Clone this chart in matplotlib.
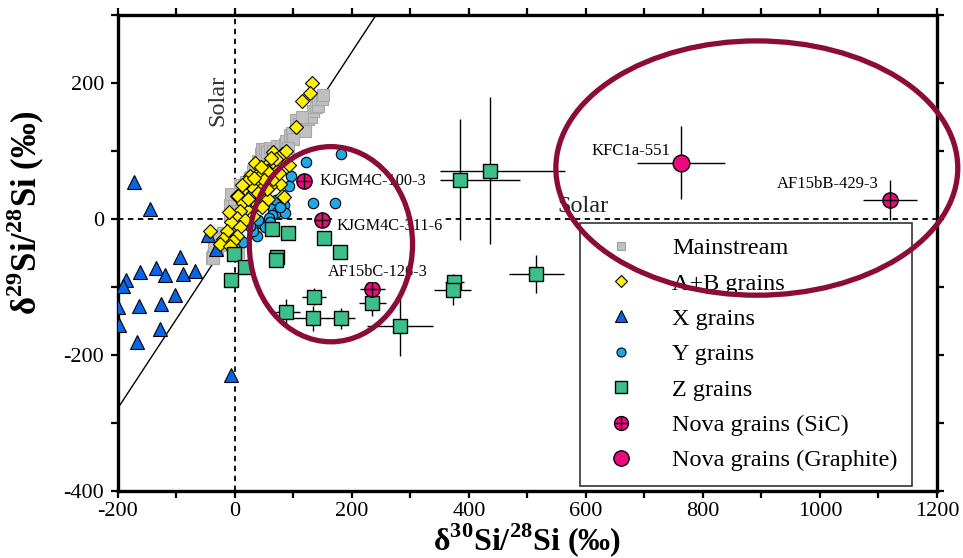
import matplotlib
matplotlib.use("Agg")
import matplotlib.pyplot as plt
from matplotlib.lines import Line2D
from matplotlib.patches import Ellipse
from matplotlib.legend_handler import HandlerTuple

# --- 글꼴 설정 ---
plt.rcParams['font.family'] = ['Liberation Serif', 'DejaVu Serif']
plt.rcParams['mathtext.fontset'] = 'custom'
plt.rcParams['mathtext.rm'] = 'Liberation Serif'
plt.rcParams['mathtext.bf'] = 'Liberation Serif:bold'
plt.rcParams['axes.unicode_minus'] = False

# --- 데이터 ---
# Mainstream (회색 사각형)
ms_x = [-40, -37, -30, -22, -11, -15, -5, 0, -8, -9, 2, 5, 9, 12, 15, 20, 25, 18, 30, 28,
        35, 40, 45, 46, 51, 55, 60, 65, 71, 75, 79, 85, 88, 94, 97, 105, 110, 117, 120, 125,
        130, 134, 138, 142, 142, 148, 150, 115, 100, 90, 70, 60, 50, 40, 30, 20, 10, 0,
        -20, -28, -35, 5, 25, 35, 45, 55, -2, 8, -6, 6, -38]
ms_y = [-58, -55, -45, -38, -32, -25, -18, -10, 5, 21, 12, 25, 39, 30, 45, 50, 60, 55, 70, 62,
        75, 85, 95, 103, 103, 98, 105, 100, 108, 100, 108, 110, 115, 123, 127, 145, 140, 132, 130, 147,
        150, 159, 165, 167, 176, 176, 182, 150, 118, 105, 90, 80, 70, 55, 40, 25, 15, 0,
        -20, -30, -40, -5, 20, 35, 50, 60, 30, 50, 37, -49, -58]

# A+B grains (노란 다이아몬드)
ab_x = [132, 128, 115, 104, 65, 35, 80, 77, 81, 3, -43, 57, 68, 72, 54, 43, 26, 37, 60, 48,
        20, 31, 83, 57, 6, 14, 37, 46, 23, 9, 31, 3, 17, -6, 9, -14, 3, -20, -3, -26,
        -9, 54, 28, 40, 65, 50, 70, 62, 44, 18, 12, -10, 22, 33, 75, 92, 88]
ab_y = [200, 186, 173, 136, 98, 83, 96, 51, 34, 34, -17, 81, 81, 71, 70, 64, 64, 54, 49, 47,
        42, 39, 32, 29, 34, 24, 22, 17, 12, 12, 5, 2, -2, -5, -12, -17, -25, -29, -32, -37,
        -39, 44, 49, 39, 59, 58, 88, 90, 76, 55, 50, 10, 30, 60, 68, 80, 100]

# X grains (파란 삼각형)
x_x = [-172, -146, -46, -32, -94, -135, -162, -119, -89, -69, -187, -191, -102, -164, -126,
       -200, -198, -129, -168, -7]
x_y = [55, 15, -24, -44, -56, -72, -78, -82, -81, -77, -90, -98, -111, -128, -125,
       -130, -156, -162, -181, -229]

# Y grains (하늘색 원)
y_x = [121, 96, 92, 134, 171, 182, 84, 83, 65, 72, 85, 64, 46, 51, 37, 14, 58, 30, 70, 77,
       40, 60, 25]
y_y = [84, 63, 48, 24, 24, 95, 33, 21, 16, 10, 9, 6, -7, -12, -25, -34, 2, -18, 28, 18,
       -2, -4, -10]

# Z grains (녹색 사각형) + 오차
z_x = [64, 91, 153, 179, 72, 70, -2, 17, -7, 135, 88, 134, 181, 235, 282, 384, 436, 515, 375, 372]
z_y = [-15, -20, -28, -49, -56, -60, -51, -71, -90, -114, -137, -146, -146, -124, -157, 58, 71,
       -81, -92, -104]
z_xerr_lo = [5, 8, 6, 4, 4, 4, 3, 3, 3, 21, 23, 45, 24, 23, 57, 34, 86, 47, 16, 32]
z_xerr_hi = [5, 8, 6, 4, 4, 4, 3, 3, 3, 21, 23, 25, 24, 23, 57, 103, 128, 47, 16, 32]
z_yerr = [6, 6, 8, 4, 6, 6, 3, 3, 3, 12, 20, 18, 15, 18, 44, 89, 108, 28, 10, 23]

# Nova grains (SiC)
nsic_names = ["KJGM4C-100-3", "KJGM4C-311-6", "AF15bC-126-3", "AF15bB-429-3"]
nsic_x = [118, 148, 235, 1120]
nsic_y = [56, -1, -103, 28]
nsic_xerr = [0, 0, 21, 46]
nsic_yerr = [0, 0, 12, 30]

# Nova grains (Graphite)
ngr_names = ["KFC1a-551"]
ngr_x = [763]
ngr_y = [83]
ngr_xerr = [75]
ngr_yerr = [54]

# 라벨 위치
label_x = [145, 173, 159, 926, 610]
label_y = [56, -10, -78, 51, 100]
label_size = [11.7, 11.7, 11.7, 12, 12]

# 강조 타원 (중심 x, 중심 y, 폭, 높이)
ellipses = [(164, -37, 279, 287), (892, 75, 687, 374)]

# 기준선 기울기 / 절편
LINE_SLOPE = 1.31
LINE_ICPT = -15.9

# --- 색상 ---
C_MS = '#c0c0c0'
C_AB = '#fff000'
C_X = '#0a64e6'
C_Y = '#1ea8e6'
C_Z = '#3cbf8a'
C_NOVA = '#eb0a7d'
C_ELL = '#8b0c38'


def main():
    fig = plt.figure(figsize=(9.63, 5.58), dpi=100)
    ax = fig.add_axes([0.1225, 0.12, 0.8505, 0.853])

    # 기준선
    ax.axvline(0, color='black', lw=1.3, ls=(0, (3, 2.5)), zorder=1)
    ax.axhline(0, color='black', lw=1.3, ls=(0, (3, 2.5)), zorder=1)
    lx = [-200, (300 - LINE_ICPT) / LINE_SLOPE]
    ax.plot(lx, [LINE_SLOPE * v + LINE_ICPT for v in lx], color='black', lw=1, zorder=2)

    ax.text(-29, 174, "Solar", rotation=90, ha='center', va='center', fontsize=17.5,
            color='#333333', zorder=3)
    ax.text(595, 19, "Solar", ha='center', va='center', fontsize=17.5, color='#222222', zorder=3)

    # 오차 막대
    ax.errorbar(z_x, z_y, xerr=[z_xerr_lo, z_xerr_hi], yerr=z_yerr, fmt='none',
                ecolor='black', elinewidth=1, capsize=0, zorder=4)
    ax.errorbar(nsic_x, nsic_y, xerr=nsic_xerr, yerr=nsic_yerr, fmt='none',
                ecolor='black', elinewidth=1, capsize=0, zorder=4)
    ax.errorbar(ngr_x, ngr_y, xerr=ngr_xerr, yerr=ngr_yerr, fmt='none',
                ecolor='black', elinewidth=1, capsize=0, zorder=4)

    # 데이터 점
    ax.plot(ms_x, ms_y, 's', ms=8.5, mfc=C_MS, mec='#a8a8a8', mew=0.8, zorder=5)
    ax.plot(y_x, y_y, 'o', ms=7.5, mfc=C_Y, mec='black', mew=0.8, zorder=6)
    ax.plot(x_x, x_y, '^', ms=10, mfc=C_X, mec='black', mew=0.8, zorder=6)
    ax.plot(ab_x, ab_y, 'D', ms=7, mfc=C_AB, mec='black', mew=0.8, zorder=7)
    ax.plot(z_x, z_y, 's', ms=10, mfc=C_Z, mec='black', mew=1, zorder=8)
    ax.plot(nsic_x, nsic_y, 'o', ms=11, mfc=C_NOVA, mec='black', mew=1, zorder=9)
    ax.plot(nsic_x, nsic_y, '+', ms=10, mec='black', mew=1, zorder=10)
    ax.plot(ngr_x, ngr_y, 'o', ms=12, mfc=C_NOVA, mec='black', mew=1, zorder=9)

    # 라벨
    names = nsic_names + ngr_names
    for i, name in enumerate(names):
        ax.text(label_x[i], label_y[i], name, ha='left', va='center', fontsize=label_size[i],
                zorder=11, bbox=dict(facecolor='white', edgecolor='none', pad=1.0))

    # 축 설정
    ax.set_xlim(-200, 1200)
    ax.set_ylim(-400, 300)
    ax.set_xticks(range(-200, 1201, 200))
    ax.set_xticks(range(-200, 1201, 100), minor=True)
    ax.set_yticks(range(-400, 201, 200))
    ax.set_yticks(range(-400, 301, 100), minor=True)
    ax.tick_params(which='both', direction='out', top=True, right=True, labeltop=False,
                   labelright=False, width=1.6, length=5, labelsize=16, pad=3)
    ax.tick_params(axis='y', pad=5)
    for sp in ax.spines.values():
        sp.set_linewidth(2.4)

    ax.set_xlabel(r"δ$^{\mathbf{30}}$Si/$^{\mathbf{28}}$Si (‰)", fontsize=23,
                  fontweight='bold', labelpad=0)
    ax.set_ylabel(r"δ$^{\mathbf{29}}$Si/$^{\mathbf{28}}$Si (‰)", fontsize=25,
                  fontweight='bold', labelpad=0)
    ax.yaxis.set_label_coords(-0.087, 0.585)

    # 범례
    h_ms = Line2D([], [], ls='none', marker='s', ms=6, mfc=C_MS, mec='#a0a0a0', mew=0.8)
    h_ab = Line2D([], [], ls='none', marker='D', ms=6, mfc=C_AB, mec='black', mew=0.8)
    h_x = Line2D([], [], ls='none', marker='^', ms=8, mfc=C_X, mec='black', mew=0.8)
    h_y = Line2D([], [], ls='none', marker='o', ms=6.5, mfc=C_Y, mec='black', mew=0.8)
    h_z = Line2D([], [], ls='none', marker='s', ms=8.5, mfc=C_Z, mec='black', mew=1)
    h_sc1 = Line2D([], [], ls='none', marker='o', ms=10, mfc=C_NOVA, mec='black', mew=1)
    h_sc2 = Line2D([], [], ls='none', marker='+', ms=9, mec='black', mew=1)
    h_gr = Line2D([], [], ls='none', marker='o', ms=11, mfc=C_NOVA, mec='black', mew=1)
    leg = ax.legend([h_ms, h_ab, h_x, h_y, h_z, (h_sc1, h_sc2), h_gr],
                    ["Mainstream", "A+B grains", "X grains", "Y grains", "Z grains",
                     "Nova grains (SiC)", "Nova grains (Graphite)"],
                    handler_map={tuple: HandlerTuple(ndivide=1)},
                    loc='lower right', bbox_to_anchor=(0.9695, 0.0105), fontsize=17.5,
                    frameon=True, fancybox=False, edgecolor='#333333', framealpha=1,
                    labelspacing=0.55, handletextpad=1.0, borderpad=0.6, handlelength=2.2,
                    borderaxespad=0)
    leg.get_frame().set_linewidth(1.2)
    leg.set_zorder(12)

    # 강조 타원 (범례 위에 그림)
    for cx, cy, w, h in ellipses:
        e = Ellipse((cx, cy), w, h, fill=False, edgecolor=C_ELL, lw=3.8, zorder=13,
                    clip_on=False)
        ax.add_patch(e)

    fig.savefig("out.png", dpi=100)


if __name__ == "__main__":
    main()
